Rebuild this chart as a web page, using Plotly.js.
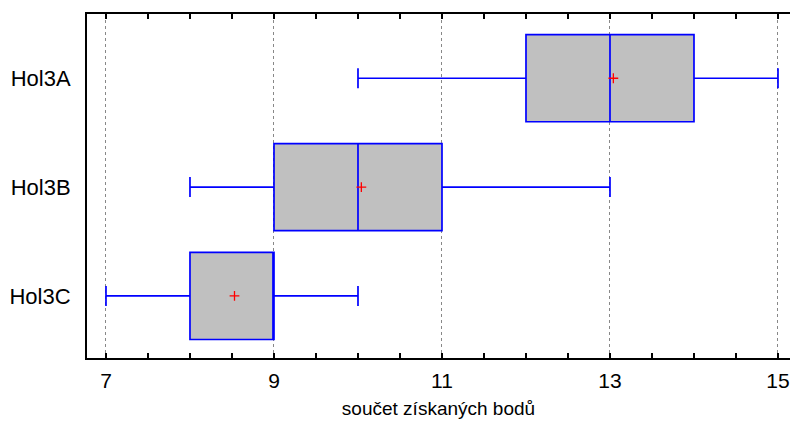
<!DOCTYPE html>
<html>
<head>
<meta charset="utf-8">
<script src="https://cdn.plot.ly/plotly-3.0.1.min.js"></script>
<style>html,body{margin:0;padding:0;background:#fff;}#chart{width:792px;height:425px;}</style>
</head>
<body>
<div id="chart"></div>
<script>
const categories = ['Hol3A', 'Hol3B', 'Hol3C'];
const lowerWhisker = [10, 8, 7];
const q1Values = [12, 9, 8];
const medianValues = [13, 10, 9];
const q3Values = [14, 11, 9];
const upperWhisker = [15, 13, 10];
const meanValues = [13.04, 10.04, 8.53];
const xTickValues = [7, 9, 11, 13, 15];
const xTitle = 'součet získaných bodů';

const boxTrace = {
  type: 'box',
  orientation: 'h',
  y: categories,
  q1: q1Values,
  median: medianValues,
  q3: q3Values,
  lowerfence: lowerWhisker,
  upperfence: upperWhisker,
  width: 0.8,
  whiskerwidth: 0.23,
  fillcolor: '#c0c0c0',
  line: {color: '#0000ff', width: 1.7},
  hoverinfo: 'skip',
  showlegend: false
};

const meanTrace = {
  type: 'scatter',
  mode: 'markers',
  x: meanValues,
  y: categories,
  marker: {symbol: 'cross-thin', size: 7, color: '#ff0000', line: {color: '#ff0000', width: 1.3}},
  hoverinfo: 'skip',
  showlegend: false
};

const layout = {
  width: 792,
  height: 425,
  margin: {l: 87, r: 2, t: 14, b: 67},
  paper_bgcolor: '#ffffff',
  plot_bgcolor: '#ffffff',
  font: {family: 'Arial, Liberation Sans, sans-serif', color: '#000'},
  xaxis: {
    range: [6.774, 15.143],
    tickvals: xTickValues,
    ticktext: xTickValues.map(String),
    ticks: 'inside',
    ticklen: 5,
    tickwidth: 1.5,
    tickcolor: '#000',
    showline: true,
    linecolor: '#000',
    linewidth: 2,
    mirror: 'ticks',
    showgrid: true,
    gridcolor: '#888888',
    griddash: 'dot',
    gridwidth: 1,
    zeroline: false,
    minor: {dtick: 0.5, tick0: 7, ticks: 'inside', ticklen: 5, tickwidth: 1.5, tickcolor: '#000', showgrid: false},
    tickfont: {size: 21, family: 'Arial, Liberation Sans, sans-serif'},
    ticklabelstandoff: 3,
    title: {text: xTitle, font: {size: 19, family: 'Arial, Liberation Sans, sans-serif'}, standoff: 10},
    fixedrange: true
  },
  yaxis: {
    type: 'category',
    categoryorder: 'array',
    categoryarray: ['Hol3C', 'Hol3B', 'Hol3A'],
    range: [-0.57, 2.59],
    showline: true,
    linecolor: '#000',
    linewidth: 2,
    mirror: false,
    ticks: '',
    showgrid: false,
    zeroline: false,
    ticklabelstandoff: 10,
    tickfont: {size: 22, family: 'Arial, Liberation Sans, sans-serif'},
    fixedrange: true
  }
};

Plotly.newPlot('chart', [boxTrace, meanTrace], layout, {displayModeBar: false, staticPlot: true});
</script>
</body>
</html>
